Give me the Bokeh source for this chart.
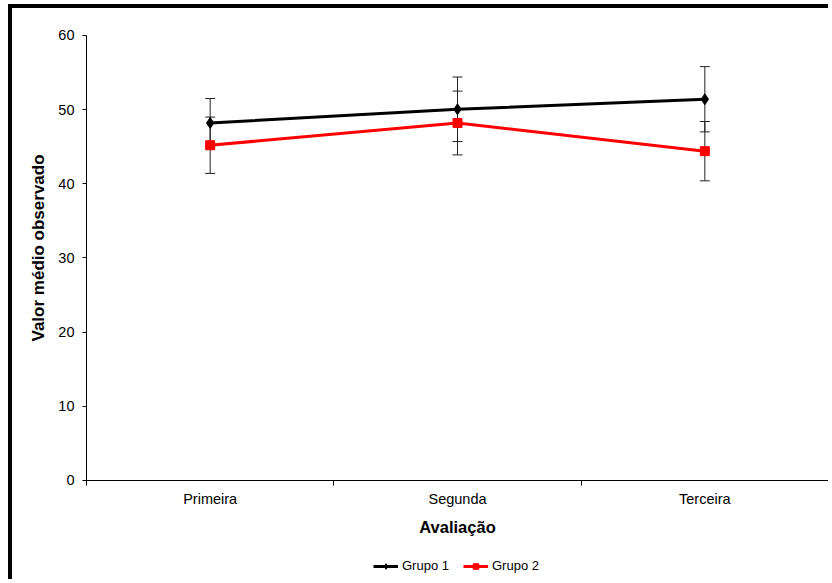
import math
from bokeh.plotting import figure
from bokeh.models import (ColumnDataSource, Whisker, TeeHead, FixedTicker, Legend,
                          LegendItem, Range1d, Label)
from bokeh.embed import file_html
from bokeh.resources import INLINE

# Evaluation moments and mean observed values per group
categories = ["Primeira", "Segunda", "Terceira"]
grupo1_mean = [48.2, 50.05, 51.4]
grupo1_err = [3.3, 4.35, 4.4]
grupo2_mean = [45.2, 48.2, 44.4]
grupo2_err = [3.8, 4.3, 4.0]
y_ticks = [0, 10, 20, 30, 40, 50, 60]

FONT = "Liberation Sans"

# categories sit at the middle of unit-wide bands
xs = [i + 0.5 for i in range(len(categories))]

src1 = ColumnDataSource(dict(
    x=xs, y=grupo1_mean,
    lo=[m - e for m, e in zip(grupo1_mean, grupo1_err)],
    hi=[m + e for m, e in zip(grupo1_mean, grupo1_err)]))
src2 = ColumnDataSource(dict(
    x=xs, y=grupo2_mean,
    lo=[m - e for m, e in zip(grupo2_mean, grupo2_err)],
    hi=[m + e for m, e in zip(grupo2_mean, grupo2_err)]))

# The frame fills the canvas so that the axis titles, tick labels and the legend,
# which sit outside the 0..3 x 0..60 plotting box, are drawn inside it.
p = figure(width=820, height=575, output_backend="svg", toolbar_location=None,
           x_range=Range1d(-0.2992, len(categories)), y_range=Range1d(-13.9, 63.64),
           min_border_left=0, min_border_right=4, min_border_top=0,
           min_border_bottom=0)
p.styles = {"border-left": "4px solid black", "border-top": "4px solid black",
            "margin-left": "8px", "margin-top": "4px"}
p.outline_line_color = None
p.xgrid.grid_line_color = None
p.ygrid.grid_line_color = None

# error bars
for src in (src1, src2):
    w = Whisker(source=src, base="x", lower="lo", upper="hi", dimension="height",
                line_color="#222222", line_width=1,
                lower_head=TeeHead(size=10, line_color="#222222", line_width=1),
                upper_head=TeeHead(size=10, line_color="#222222", line_width=1))
    p.add_layout(w)

l1 = p.line("x", "y", source=src1, line_color="black", line_width=3)
m1 = p.scatter("x", "y", source=src1, marker="diamond", size=11,
               fill_color="black", line_color="black")
l2 = p.line("x", "y", source=src2, line_color="#FF0000", line_width=3)
m2 = p.scatter("x", "y", source=src2, marker="square", size=9,
               fill_color="#FF0000", line_color="#FF0000")

# x axis: labels at category centres, tick marks at category boundaries
xa = p.xaxis[0]
xa.fixed_location = 0
xa.bounds = (0, len(categories))
xa.ticker = FixedTicker(ticks=xs, minor_ticks=list(range(len(categories) + 1)))
xa.major_label_overrides = {x: c for x, c in zip(xs, categories)}
xa.major_tick_line_color = None
xa.major_tick_in = 0
xa.major_tick_out = 0
xa.minor_tick_in = 0
xa.minor_tick_out = 5
xa.minor_tick_line_color = "black"
xa.axis_line_color = "black"
xa.major_label_text_font = FONT
xa.major_label_text_font_size = "14.5px"
xa.major_label_text_color = "black"
xa.major_label_standoff = 6

ya = p.yaxis[0]
ya.fixed_location = 0
ya.bounds = (0, 60)
ya.ticker = FixedTicker(ticks=y_ticks)
ya.minor_tick_line_color = None
ya.major_tick_in = 0
ya.major_tick_out = 4
ya.major_tick_line_color = "black"
ya.axis_line_color = "black"
ya.major_label_text_font = FONT
ya.major_label_text_font_size = "14.5px"
ya.major_label_text_color = "black"
ya.major_label_standoff = 8

# axis titles
p.add_layout(Label(x=1.5, y=0, y_offset=-47, text="Avaliação",
                   text_font=FONT, text_font_size="16.5px", text_font_style="bold",
                   text_color="black", text_align="center",
                   text_baseline="alphabetic"))
p.add_layout(Label(x=0, y=30, x_offset=-48.5, y_offset=10,
                   text="Valor médio observado", angle=math.pi / 2,
                   text_font=FONT, text_font_size="17px", text_font_style="bold",
                   text_color="black", text_align="center",
                   text_baseline="middle"))

# legend centred below the axis title
legend = Legend(items=[LegendItem(label="Grupo 1", renderers=[l1, m1]),
                       LegendItem(label="Grupo 2", renderers=[l2, m2])],
                orientation="horizontal", location=(361, 10),
                label_text_font=FONT, label_text_font_size="13px",
                label_text_color="black", glyph_width=25, glyph_height=14,
                label_standoff=4, spacing=14, padding=4, margin=0,
                border_line_color=None, background_fill_alpha=0)
p.add_layout(legend)

open("out.html", "w").write(file_html(p, INLINE))
